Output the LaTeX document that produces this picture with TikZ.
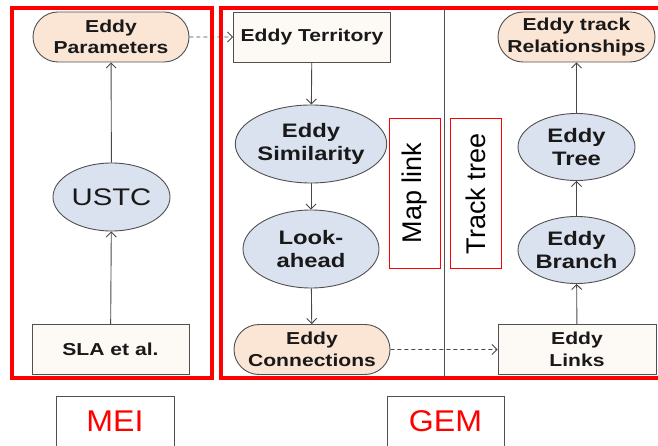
\documentclass[tikz,border=0pt]{standalone}
\usepackage{fontspec}
\setmainfont{Liberation Sans}
\newfontfamily\lblfont[FakeStretch=1.22]{Liberation Sans}
\newfontfamily\bigfont[FakeStretch=1.07]{Liberation Sans}
\usetikzlibrary{shapes.geometric,shapes.misc,arrows.meta}
\definecolor{peach}{HTML}{FBE5D5}
\definecolor{paleblue}{HTML}{DAE2EF}
\definecolor{cream}{HTML}{FDF9F4}
\definecolor{edge}{HTML}{505050}
\definecolor{pure}{HTML}{FF0000}
\tikzset{
  base/.style={draw=edge, line width=0.9pt, text=black!90, align=center, inner sep=0pt},
  stadium/.style={base, rounded rectangle, fill=peach, minimum width=156pt, minimum height=50pt,
    font=\lblfont\bfseries\fontsize{17.3}{21.5}\selectfont},
  rectbox/.style={base, rectangle, fill=cream, minimum width=157pt, minimum height=50pt,
    font=\lblfont\bfseries\fontsize{17.3}{21.5}\selectfont},
  oval/.style={base, ellipse, fill=paleblue, font=\lblfont\bfseries\fontsize{19.5}{23}\selectfont},
  tagbox/.style={draw=pure, line width=0.8pt, minimum width=51pt, minimum height=150pt, inner sep=0pt},
  tagtext/.style={rotate=90, font=\fontsize{27}{30}\selectfont, inner sep=0pt},
  labelbox/.style={draw=edge, line width=0.8pt, minimum width=118pt, minimum height=50pt, inner sep=0pt,
    text=pure, font=\bigfont\fontsize{30}{34}\selectfont},
  redframe/.style={draw=pure, line width=4pt},
  arr/.style={draw=edge!90!black, line width=0.9pt, -{Straight Barb[length=5pt,width=10pt]}},
  darr/.style={arr, dashed, dash pattern=on 4pt off 3pt}
}
\begin{document}
\begin{tikzpicture}[x=1pt,y=-1pt]
\useasboundingbox (0,0) rectangle (658,446);
\clip (0,0) rectangle (658,446);
% red frames
\draw[redframe] (12,8) rectangle (211.5,377.5);
\draw[redframe] (665,8) -- (221,8) -- (221,377.5) -- (665,377.5);
% divider
\draw[edge, line width=1pt] (444.5,8) -- (444.5,377.5);
% MEI column
\node[stadium] (par) at (111,37) {Eddy\\Parameters};
\node[oval, minimum width=117pt, minimum height=68pt, font=\lblfont\fontsize{24}{28}\selectfont] (ustc) at (111.5,197) {USTC};
\node[rectbox] (sla) at (110.5,349.5) {SLA et al.};
% GEM middle column
\node[rectbox] (ter) at (312,37) {Eddy Territory};
\node[oval, minimum width=133pt, minimum height=78pt] (sim) at (311,144) {Eddy\\Similarity};
\node[oval, minimum width=136pt, minimum height=78pt] (look) at (311,249) {Look-\\ahead};
\node[stadium] (con) at (312,349.5) {Eddy\\Connections};
% tags
\node[tagbox] (mapbox) at (414.5,193) {};
\node[tagtext] (maptxt) at (414.5,193) {Map link};
\node[tagbox] (trkbox) at (475.5,193) {};
\node[tagtext] (trktxt) at (475.5,194) {Track tree};
% GEM right column
\node[stadium, minimum width=157pt] (rel) at (576.5,37) {Eddy track\\Relationships};
\node[oval, minimum width=117pt, minimum height=67pt] (tree) at (576.5,147) {Eddy\\Tree};
\node[oval, minimum width=117pt, minimum height=67pt] (branch) at (576.5,250) {Eddy\\Branch};
\node[rectbox, minimum width=158pt] (links) at (577,349.5) {Eddy\\Links};
% bottom labels
\node[labelbox] (mei) at (115,421) {MEI};
\node[labelbox, minimum width=117pt] (gem) at (445.5,421) {GEM};
% connectors
\draw[arr] (sla) -- (ustc);
\draw[arr] (ustc) -- (par);
\draw[darr] (par) -- (ter);
\draw[arr] (ter) -- (sim);
\draw[arr] (sim) -- (look);
\draw[arr] (look) -- (con);
\draw[darr] (con) -- (links);
\draw[arr] (links) -- (branch);
\draw[arr] (branch) -- (tree);
\draw[arr] (tree) -- (rel);
\end{tikzpicture}
\end{document}
